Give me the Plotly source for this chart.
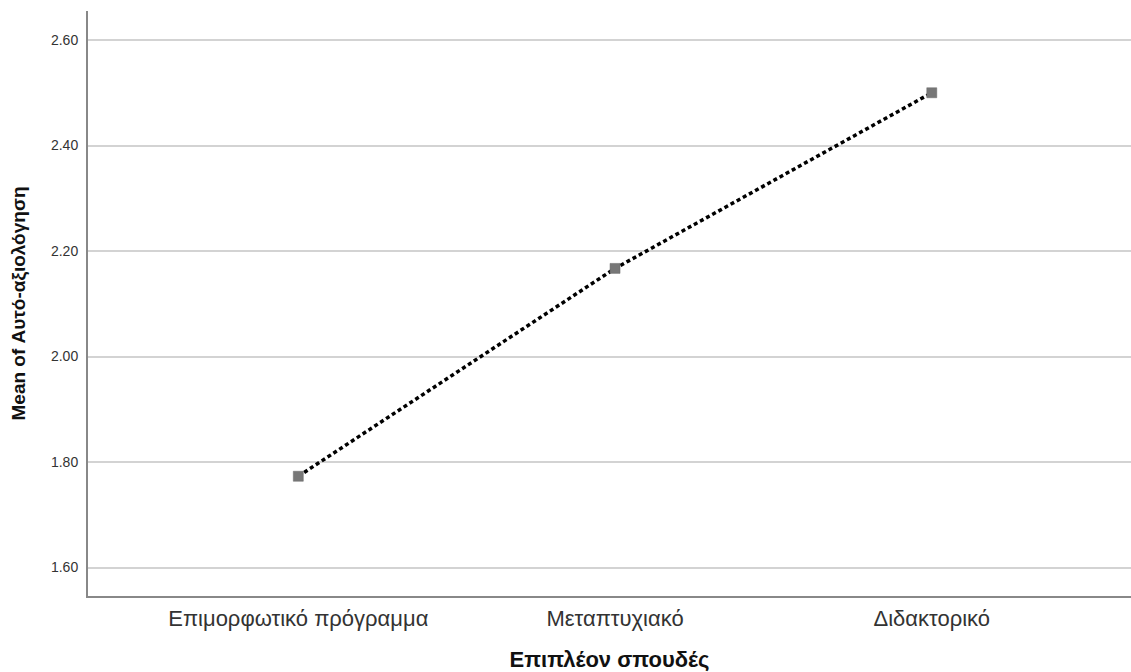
import plotly.graph_objects as go

categories = ["Επιμορφωτικό πρόγραμμα", "Μεταπτυχιακό", "Διδακτορικό"]
means = [1.773, 2.167, 2.500]
y_ticks = [1.60, 1.80, 2.00, 2.20, 2.40, 2.60]

fig = go.Figure()
fig.add_trace(go.Scatter(
    x=[0, 1, 2], y=means, mode="lines+markers",
    line=dict(color="black", width=3.5, dash="4px,3px"),
    marker=dict(symbol="square", size=10, color="#777777",
                line=dict(color="#6a6a6a", width=0.5)),
    hoverinfo="skip", showlegend=False,
))

fig.update_layout(
    width=1131, height=672,
    margin=dict(l=88, r=0, t=11, b=76),
    paper_bgcolor="white", plot_bgcolor="white",
    font=dict(family="Liberation Sans, Arial, sans-serif", color="#222222"),
)
fig.update_xaxes(
    range=[-0.664, 2.629],
    tickmode="array", tickvals=[0, 1, 2], ticktext=categories,
    tickfont=dict(size=22, color="#333333"),
    showgrid=False, zeroline=False,
    showline=True, linecolor="#888888", linewidth=2,
    ticks="", ticklabelstandoff=2, automargin=False,
    title=dict(text="<b>Επιπλέον σπουδές</b>", font=dict(size=22, color="#111111"), standoff=23),
)
fig.update_yaxes(
    range=[1.546, 2.655],
    tickmode="array", tickvals=y_ticks, ticktext=[f"{v:.2f}" for v in y_ticks],
    tickfont=dict(size=14, color="#333333"),
    showgrid=True, gridcolor="#d3d3d3", gridwidth=1.5,
    zeroline=False,
    showline=True, linecolor="#888888", linewidth=2,
    ticks="", ticklabelstandoff=5, automargin=False,
    title=dict(text="<b>Mean of Αυτό-αξιολόγηση</b>", font=dict(size=19, color="#111111"), standoff=20),
)

fig.write_html(
    "out.html",
    config={"displayModeBar": False},
    post_script="document.body.style.margin='0';document.body.style.overflow='hidden';",
)
